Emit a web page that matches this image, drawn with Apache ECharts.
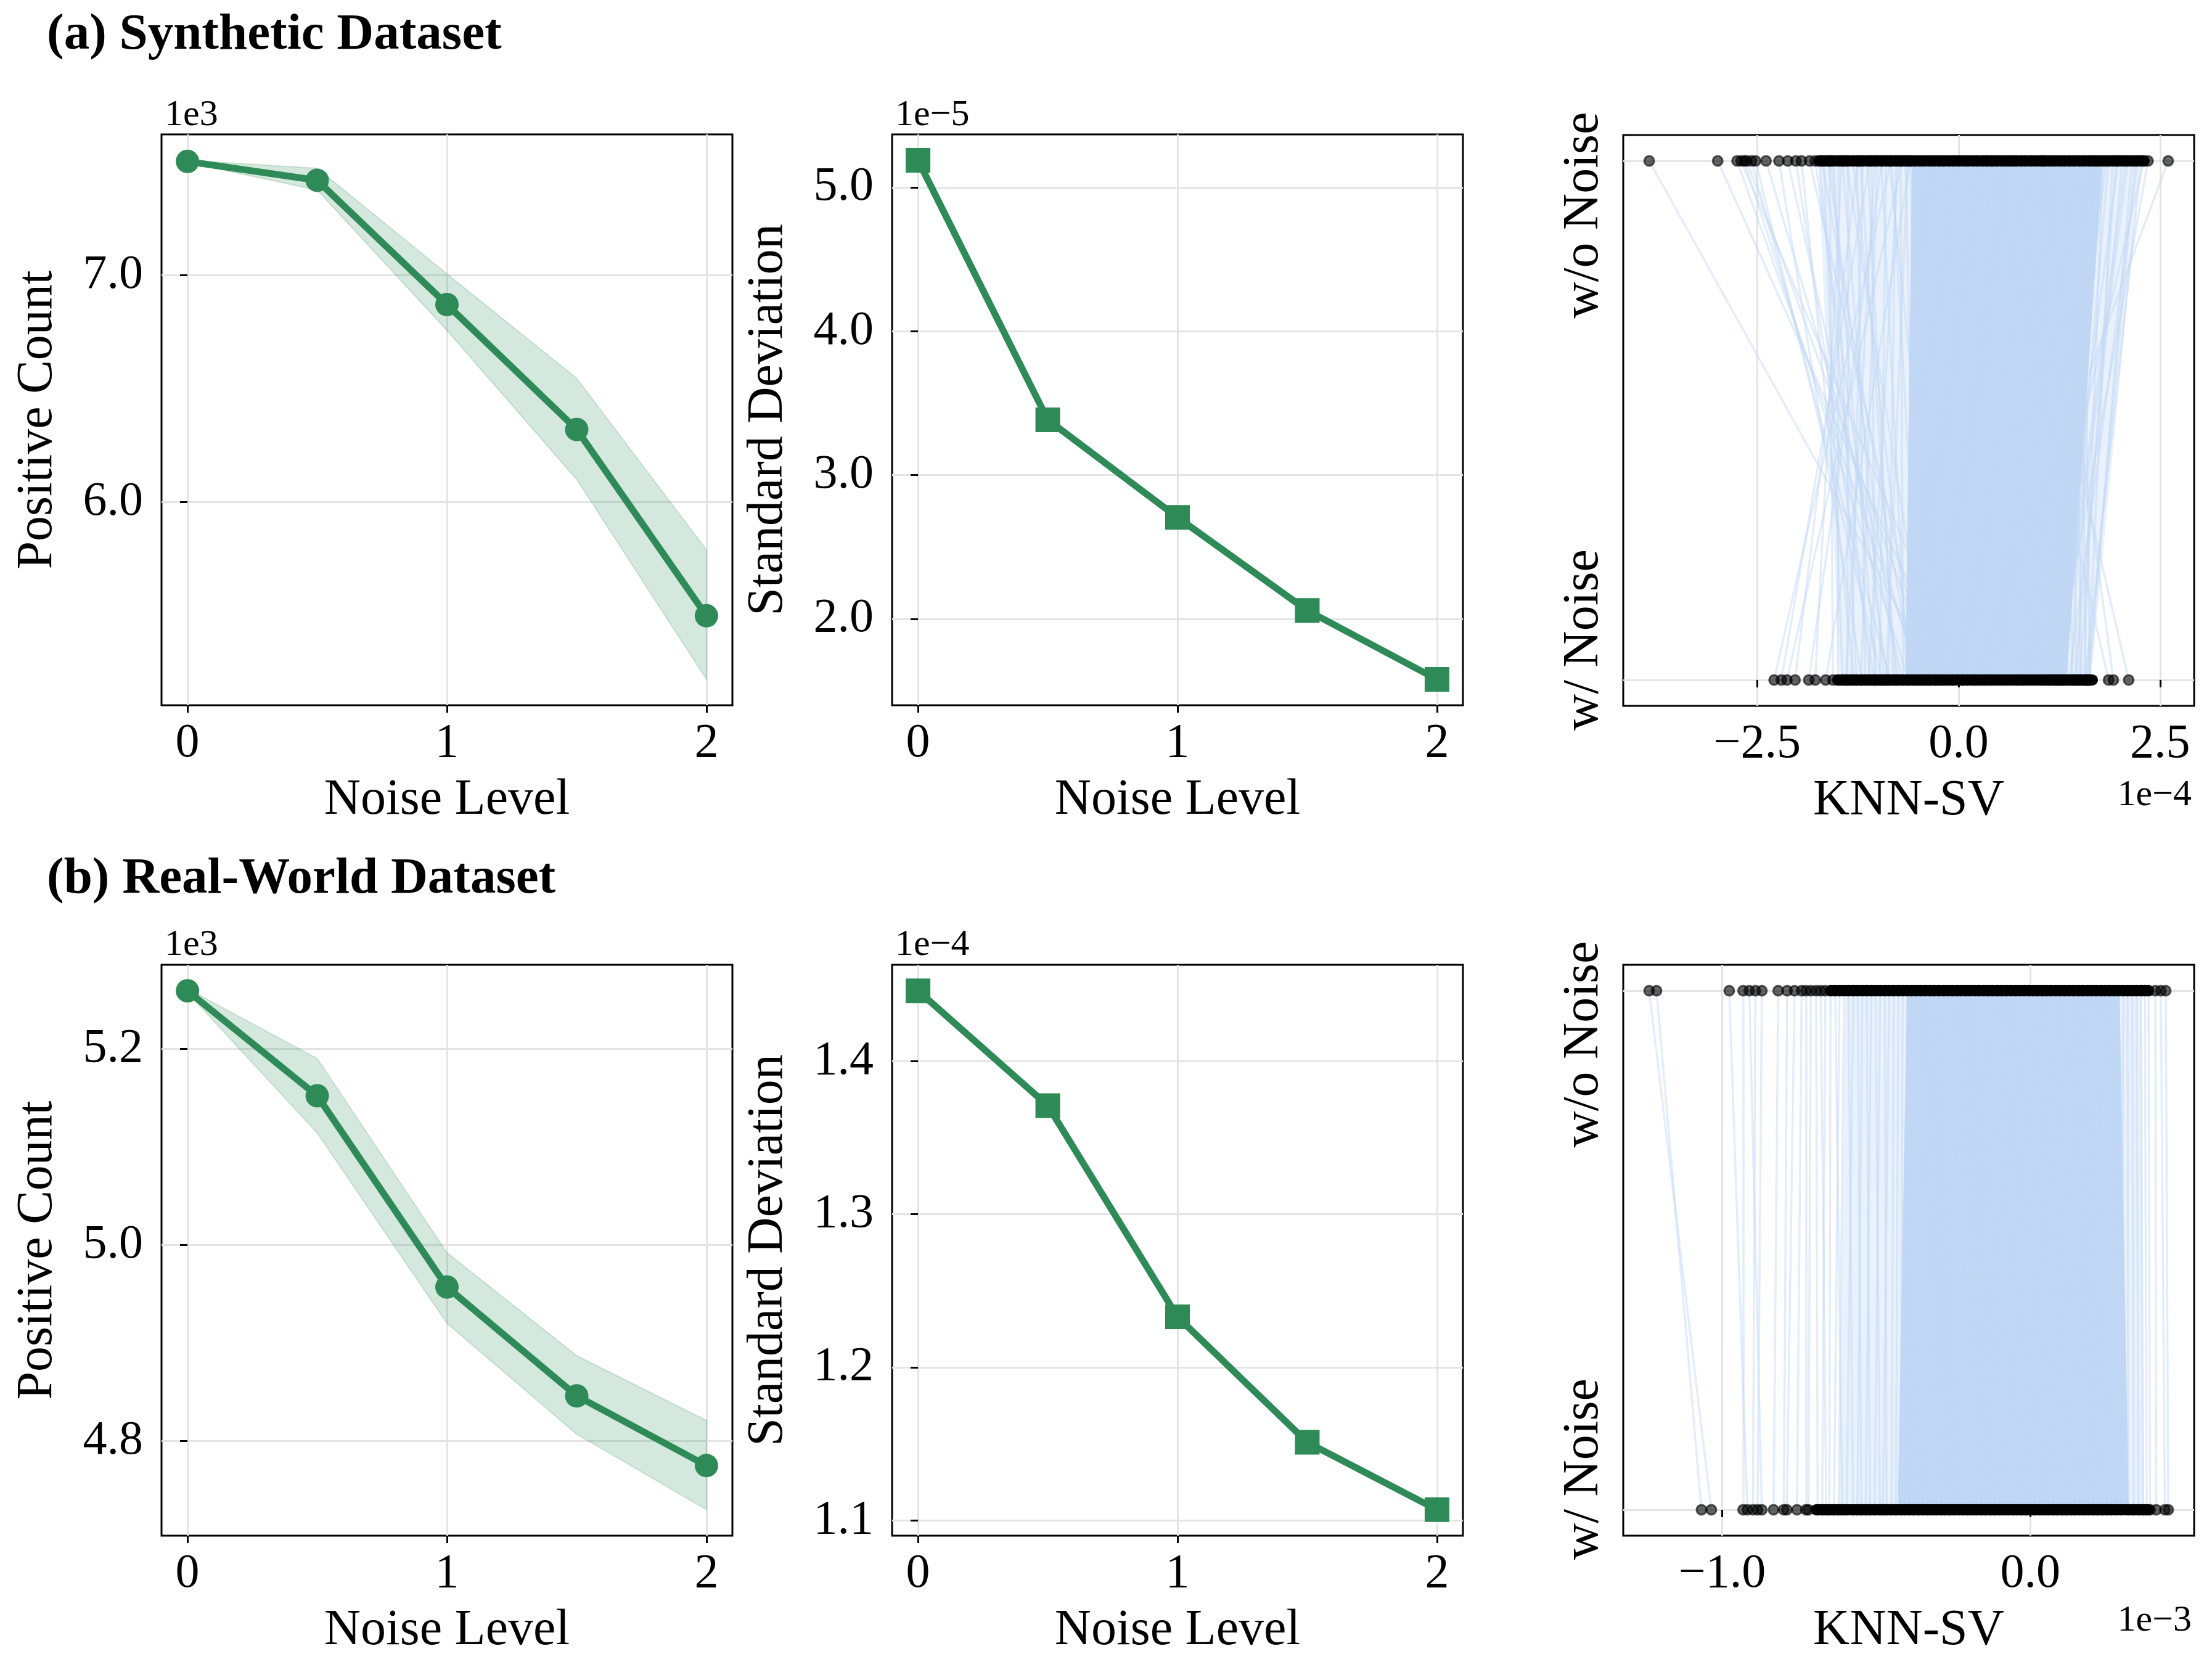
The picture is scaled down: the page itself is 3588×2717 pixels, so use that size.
<!DOCTYPE html>
<html>
<head>
<meta charset="utf-8">
<script src="https://cdn.jsdelivr.net/npm/echarts@6/dist/echarts.min.js"></script>
<style>
  html, body { margin: 0; padding: 0; background: #fff; }
  #chart { width: 3588px; height: 2717px; }
</style>
</head>
<body>
<div id="chart"></div>
<script>
// ---- data (values in the units shown on each axis; offset text gives the multiplier) ----
const noiseLevels = [0, 0.5, 1, 1.5, 2];

// (a) synthetic, positive count x1e3
const synPosMean = [7.500, 7.417, 6.870, 6.320, 5.500];
const synPosLow  = [7.495, 7.374, 6.756, 6.100, 5.220];
const synPosHigh = [7.505, 7.470, 7.005, 6.545, 5.790];
// (a) synthetic, standard deviation x1e-5
const synStd = [5.188, 3.384, 2.705, 2.058, 1.579];

// (b) real-world, positive count x1e3
const realPosMean = [5.259, 5.152, 4.957, 4.846, 4.775];
const realPosLow  = [5.257, 5.114, 4.920, 4.807, 4.730];
const realPosHigh = [5.261, 5.190, 4.992, 4.887, 4.821];
// (b) real-world, standard deviation x1e-4
const realStd = [1.446, 1.371, 1.233, 1.151, 1.107];

// KNN-SV per sample, paired by index: w/o noise (top) -> w/ noise (bottom). synthetic x1e-4
const synWithout = [
  -3.84, -2.99, -2.75, -2.70, -2.66, -2.63, -2.57, -2.52, -2.39, -2.23, -2.12, -2.02, -1.95, -1.85, -1.78,
  -0.84, -1.10, -0.70, -1.25, -0.95, -1.45, -0.60, -1.60,
  2.60, 2.35, 2.30, 0.62, 1.05, 0.40,
  -1.73, -1.67, -1.62, -1.55, -1.49, -1.44, -1.37, -1.31, -1.26, -1.19, -1.13, -1.08, -1.01, -0.96, -0.90,
  -0.83, -0.78, -0.72, -0.66, -0.60, -0.55, -0.48, -0.43, -0.36, -0.31, -0.24, -0.19, -0.12, -0.06, 0.00,
  0.06, 0.11, 0.18, 0.23, 0.30, 0.35, 0.42, 0.47, 0.54, 0.59, 0.66, 0.71, 0.78, 0.83, 0.90, 0.95,
  1.02, 1.07, 1.14, 1.19, 1.26, 1.31, 1.38, 1.43, 1.50, 1.55, 1.62, 1.67, 1.74, 1.79, 1.86, 1.91,
  1.98, 2.03, 2.10, 2.15, 2.22, 2.27,
  -1.70, -1.58, -1.40, -1.22, -1.04, -0.86, -0.75, -0.63, 1.70, 1.83, 1.95, 2.07, 2.19
];
const synWith = [
  -0.26, -0.08, -0.45, 0.05, -0.62, -0.30, -0.85, -0.95, -0.50, -1.20, -0.70, -1.05, -1.30, -0.40, -0.88,
  -2.29, -2.20, -2.13, -2.03, -1.86, -1.78, -1.65, -1.56,
  0.20, 1.20, 0.80, 2.11, 1.92, 1.86,
  -1.10, -1.44, -0.75, -1.27, -1.50, -0.93, -1.38, -0.58, -1.16, -1.33, -0.81, -1.04, -1.21, -0.64, -0.98,
  -0.47, -0.87, -0.69, -0.52, -0.41, -0.35, -0.29, -0.24, -0.18, -0.12, -0.07, -0.01, 0.05, 0.10, 0.16,
  0.22, 0.27, 0.33, 0.39, 0.44, 0.50, 0.56, 0.61, 0.67, 0.73, 0.78, 0.84, 0.90, 0.95, 1.01, 1.07,
  1.12, 1.18, 1.24, 1.29, 1.35, 1.41, 1.46, 1.52, 1.58, 1.63, 1.21, 1.48, 1.10, 1.55, 1.31, 1.60,
  1.15, 1.44, 1.27, 1.62, 1.37, 1.57,
  -0.55, -1.02, -0.36, -0.78, -1.40, -0.20, -1.12, -0.90, 1.40, 1.05, 1.50, 1.25, 1.60
];
// fully overlapped parts: [left, right] extents on each row
const synCoreWithout = [-0.58, 1.79];     // solid link band
const synCoreWith = [-0.66, 1.34];
const synMeshWithout = [-1.74, 2.26];     // dense link mesh
const synMeshWith = [-1.48, 1.64];
const synDotsWithout = [-1.73, 2.30];     // solid dot run
const synDotsWith = [-1.50, 1.66];

// real-world x1e-3
const realWithout = [
  -1.237, -1.213, -0.977, -0.932, -0.912, -0.892, -0.871, -0.818, -0.789, -0.765, -0.742, -0.728, -0.712, -0.695, -0.680, -0.665,
  0.406, 0.424, 0.440,
  -0.648, -0.633, -0.619, -0.604, -0.590, -0.574, -0.560, -0.545, -0.531, -0.516, -0.502, -0.487, -0.472, -0.458,
  -0.443, -0.428, -0.414, -0.399, -0.385, -0.370, -0.355, -0.341, -0.326, -0.312, -0.297, -0.282, -0.268, -0.253,
  -0.239, -0.224, -0.209, -0.195, -0.180, -0.166, -0.151, -0.136, -0.122, -0.107, -0.093, -0.078, -0.063, -0.049,
  -0.034, -0.020, -0.005, 0.010, 0.024, 0.039, 0.053, 0.068, 0.083, 0.097, 0.112, 0.126, 0.141, 0.156, 0.170,
  0.185, 0.199, 0.214, 0.229, 0.243, 0.258, 0.272, 0.287, 0.302, 0.316, 0.331, 0.345, 0.360, 0.372, 0.384
];
const realWith = [
  -1.035, -1.067, -0.918, -0.932, -0.871, -0.900, -0.885, -0.833, -0.800, -0.790, -0.757, -0.728, -0.720, -0.690, -0.662, -0.675,
  0.409, 0.437, 0.448,
  -0.652, -0.610, -0.637, -0.622, -0.575, -0.596, -0.548, -0.561, -0.520, -0.534, -0.488, -0.505, -0.466, -0.478,
  -0.450, -0.436, -0.421, -0.407, -0.392, -0.378, -0.363, -0.348, -0.334, -0.319, -0.305, -0.290, -0.276, -0.261,
  -0.247, -0.232, -0.217, -0.203, -0.188, -0.174, -0.159, -0.145, -0.130, -0.116, -0.101, -0.086, -0.072, -0.057,
  -0.043, -0.028, -0.014, 0.001, 0.015, 0.030, 0.044, 0.059, 0.074, 0.088, 0.103, 0.117, 0.132, 0.146, 0.161,
  0.176, 0.190, 0.205, 0.219, 0.234, 0.249, 0.263, 0.278, 0.296, 0.318, 0.336, 0.352, 0.366, 0.378, 0.389
];
const realCoreWithout = [-0.40, 0.29];
const realCoreWith = [-0.43, 0.32];
const realMeshWithout = [-0.60, 0.36];
const realMeshWith = [-0.62, 0.37];
const realDotsWithout = [-0.648, 0.384];
const realDotsWith = [-0.695, 0.384];

// ---- style ----
const FONT = 'Liberation Serif';
const GREEN = '#2e8b57';
const BLUE = '#c0d7f5';
const GRIDC = '#e4e4e4';
const TICK_FS = 78, NAME_FS = 82, OFF_FS = 60, TITLE_FS = 83;
const DOT = 16;

const minus = v => (v < 0 ? '\u2212' : '') + Math.abs(v).toFixed(1);

// grid boxes: [left, top]
const boxes = [[262, 218], [1447, 218], [2633, 219], [262, 1565], [1447, 1565], [2633, 1565]];
const W = 926, H = 926;

const grids = boxes.map(b => ({
  left: b[0], top: b[1], width: W, height: H,
  show: true, borderColor: '#000', borderWidth: 3, backgroundColor: 'transparent',
  containLabel: false, outerBoundsMode: 'none'
}));

function tickStyle(values) {
  return { show: true, length: 12, customValues: values, lineStyle: { color: '#000', width: 3 } };
}
function gridLine() {
  return { show: true, lineStyle: { color: GRIDC, width: 3 } };
}

function xAxisFor(gi, min, max, ticks, name, fmt) {
  return {
    type: 'value', gridIndex: gi, min, max,
    name, nameLocation: 'middle', nameGap: 113,
    nameTextStyle: { fontFamily: FONT, fontSize: NAME_FS, color: '#000' },
    axisLine: { show: false },
    axisTick: tickStyle(ticks),
    axisLabel: { customValues: ticks, margin: 24, fontFamily: FONT, fontSize: TICK_FS, color: '#000', formatter: fmt },
    splitLine: gridLine()
  };
}
function yAxisFor(gi, min, max, ticks, name, showLabel) {
  return {
    type: 'value', gridIndex: gi, min, max,
    name, nameLocation: 'middle', nameGap: 160, nameRotate: 90,
    nameTextStyle: { fontFamily: FONT, fontSize: NAME_FS, color: '#000' },
    axisLine: { show: false },
    axisTick: tickStyle(ticks),
    axisLabel: { show: showLabel, customValues: ticks, margin: 30, fontFamily: FONT, fontSize: TICK_FS, color: '#000', formatter: v => minus(v) },
    splitLine: gridLine()
  };
}

const xAxes = [
  xAxisFor(0, -0.1, 2.1, [0, 1, 2], 'Noise Level', v => String(v)),
  xAxisFor(1, -0.1, 2.1, [0, 1, 2], 'Noise Level', v => String(v)),
  xAxisFor(2, -4.162, 2.922, [-2.5, 0, 2.5], 'KNN-SV', minus),
  xAxisFor(3, -0.1, 2.1, [0, 1, 2], 'Noise Level', v => String(v)),
  xAxisFor(4, -0.1, 2.1, [0, 1, 2], 'Noise Level', v => String(v)),
  xAxisFor(5, -1.321, 0.532, [-1.0, 0.0], 'KNN-SV', minus)
];
const yAxes = [
  yAxisFor(0, 5.106, 7.619, [6, 7], 'Positive Count', true),
  yAxisFor(1, 1.399, 5.368, [2, 3, 4, 5], 'Standard Deviation', true),
  yAxisFor(2, -0.05, 1.05, [0, 1], '', false),
  yAxisFor(3, 4.7035, 5.2855, [4.8, 5.0, 5.2], 'Positive Count', true),
  yAxisFor(4, 1.090, 1.463, [1.1, 1.2, 1.3, 1.4], 'Standard Deviation', true),
  yAxisFor(5, -0.05, 1.05, [0, 1], '', false)
];

function bandSeries(idx, lo, hi) {
  return {
    type: 'custom', xAxisIndex: idx, yAxisIndex: idx, z: 1, silent: true,
    data: noiseLevels.map((x, i) => [x, lo[i], hi[i]]),
    encode: { x: 0, y: [1, 2] },
    renderItem(params, api) {
      if (params.dataIndex !== 0) return { type: 'group', children: [] };
      const pts = noiseLevels.map((x, i) => api.coord([x, hi[i]]));
      for (let i = noiseLevels.length - 1; i >= 0; i--) pts.push(api.coord([noiseLevels[i], lo[i]]));
      return {
        type: 'polygon', shape: { points: pts },
        style: { fill: 'rgba(46,139,87,0.2)', stroke: 'rgba(46,139,87,0.2)', lineWidth: 2 }
      };
    }
  };
}
function meanSeries(idx, vals, symbol, size) {
  return {
    type: 'line', xAxisIndex: idx, yAxisIndex: idx, z: 3,
    data: noiseLevels.map((x, i) => [x, vals[i]]),
    symbol, symbolSize: size, showAllSymbol: true,
    lineStyle: { color: GREEN, width: 11 },
    itemStyle: { color: GREEN, opacity: 1 }
  };
}
// quadrilateral between a span on the top row and a span on the bottom row
function spanSeries(idx, topSpan, botSpan, opacity, z) {
  return {
    type: 'custom', xAxisIndex: idx, yAxisIndex: idx, z, silent: true,
    data: [[topSpan[0], 1], [topSpan[1], 1], [botSpan[1], 0], [botSpan[0], 0]],
    encode: { x: 0, y: 1 },
    renderItem(params, api) {
      if (params.dataIndex !== 0) return { type: 'group', children: [] };
      const pts = [
        api.coord([topSpan[0], 1]), api.coord([topSpan[1], 1]),
        api.coord([botSpan[1], 0]), api.coord([botSpan[0], 0])
      ];
      return { type: 'polygon', shape: { points: pts }, style: { fill: BLUE, opacity } };
    }
  };
}
// solid run of overlapping dots on a row
function dotRunSeries(idx, span, row) {
  return {
    type: 'custom', xAxisIndex: idx, yAxisIndex: idx, z: 4, silent: true,
    data: [[span[0], row], [span[1], row]],
    encode: { x: 0, y: 1 },
    renderItem(params, api) {
      if (params.dataIndex !== 0) return { type: 'group', children: [] };
      const a = api.coord([span[0], row]), b = api.coord([span[1], row]);
      return {
        type: 'line', shape: { x1: a[0], y1: a[1], x2: b[0], y2: b[1] },
        style: { stroke: '#000', lineWidth: DOT + 2, lineCap: 'round' }
      };
    }
  };
}
function knnSeries(idx, top, bottom, meshTop, meshBottom, coreTop, coreBottom, dotsTop, dotsBottom) {
  return [
    spanSeries(idx, meshTop, meshBottom, 0.35, 1),
    spanSeries(idx, coreTop, coreBottom, 1, 1),
    {
      type: 'lines', coordinateSystem: 'cartesian2d', xAxisIndex: idx, yAxisIndex: idx, z: 2, silent: true,
      data: top.map((t, i) => ({ coords: [[t, 1], [bottom[i], 0]] })),
      lineStyle: { color: BLUE, width: 3.5, opacity: 0.45, curveness: 0 },
      effect: { show: false }
    },
    dotRunSeries(idx, dotsTop, 1),
    dotRunSeries(idx, dotsBottom, 0),
    {
      type: 'scatter', xAxisIndex: idx, yAxisIndex: idx, z: 5, silent: true,
      data: top.map(v => [v, 1]).concat(bottom.map(v => [v, 0])),
      symbol: 'circle', symbolSize: DOT,
      itemStyle: { color: 'rgba(0,0,0,0.6)', borderColor: 'rgba(0,0,0,0.6)', borderWidth: 3, opacity: 1 }
    }
  ];
}

const series = [
  bandSeries(0, synPosLow, synPosHigh),
  meanSeries(0, synPosMean, 'circle', 38),
  meanSeries(1, synStd, 'rect', 40),
  ...knnSeries(2, synWithout, synWith, synMeshWithout, synMeshWith, synCoreWithout, synCoreWith, synDotsWithout, synDotsWith),
  bandSeries(3, realPosLow, realPosHigh),
  meanSeries(3, realPosMean, 'circle', 38),
  meanSeries(4, realStd, 'rect', 40),
  ...knnSeries(5, realWithout, realWith, realMeshWithout, realMeshWith, realCoreWithout, realCoreWith, realDotsWithout, realDotsWith)
];

// text helpers; y is the alphabetic baseline, converted to the em middle
function txt(text, x, baseline, size, opts = {}) {
  return {
    type: 'text', x, y: baseline - 0.3375 * size, silent: true,
    style: {
      text, fontFamily: FONT, fontSize: size, fontWeight: opts.bold ? 'bold' : 'normal',
      fill: '#000', align: opts.align || 'left', verticalAlign: 'middle'
    }
  };
}
function vtxt(text, baselineX, centerY, size) {
  return {
    type: 'text', x: baselineX - 0.3375 * size, y: centerY, rotation: Math.PI / 2, silent: true,
    style: { text, fontFamily: FONT, fontSize: size, fill: '#000', align: 'center', verticalAlign: 'middle' }
  };
}

const graphic = [
  txt('(a) Synthetic Dataset', 76, 86, TITLE_FS, { bold: true }),
  txt('(b) Real-World Dataset', 76, 1455, TITLE_FS, { bold: true }),
  txt('1e3', 267, 207, OFF_FS),
  txt('1e\u22125', 1452, 207, OFF_FS),
  txt('1e\u22124', 3555, 1310, OFF_FS, { align: 'right' }),
  txt('1e3', 267, 1553, OFF_FS),
  txt('1e\u22124', 1452, 1553, OFF_FS),
  txt('1e\u22123', 3555, 2649, OFF_FS, { align: 'right' }),
  vtxt('w/o Noise', 2597, 349, NAME_FS),
  vtxt('w/ Noise', 2597, 1038, NAME_FS),
  vtxt('w/o Noise', 2597, 1694, NAME_FS),
  vtxt('w/ Noise', 2597, 2383, NAME_FS)
];

const chart = echarts.init(document.getElementById('chart'), null, { renderer: 'canvas' });
chart.setOption({
  animation: false,
  backgroundColor: '#fff',
  grid: grids,
  xAxis: xAxes,
  yAxis: yAxes,
  series,
  graphic
});
</script>
</body>
</html>
